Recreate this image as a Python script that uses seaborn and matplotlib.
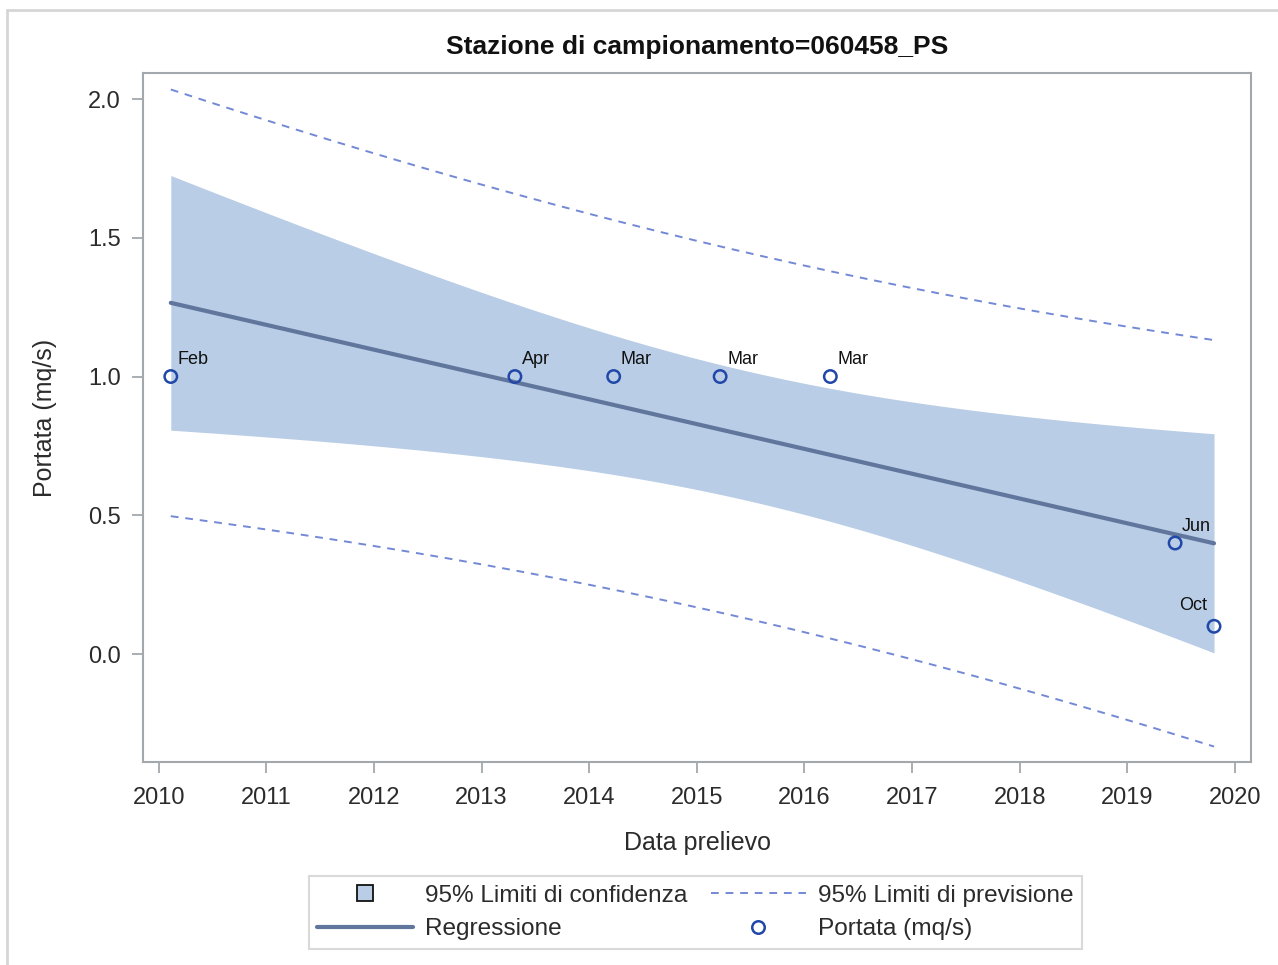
import numpy as np
import pandas as pd
import matplotlib
matplotlib.use("Agg")
import matplotlib.pyplot as plt
from matplotlib.lines import Line2D
import seaborn as sns

# Sampling data for station 060458_PS
sample_dates = ["2010-02-11", "2013-04-24", "2014-03-25", "2015-03-21",
                "2016-03-29", "2019-06-12", "2019-10-22"]
flow_values = [1.0, 1.0, 1.0, 1.0, 1.0, 0.4, 0.1]
month_labels = ["Feb", "Apr", "Mar", "Mar", "Mar", "Jun", "Oct"]
year_ticks = list(range(2010, 2021))
flow_ticks = [0.0, 0.5, 1.0, 1.5, 2.0]

T_975_DF5 = 2.5706  # Student t quantile, 95% two-sided, n-2 = 5 dof

dates = pd.to_datetime(sample_dates)
days_in_year = np.where(dates.is_leap_year, 366.0, 365.0)
x = dates.year.to_numpy() + (dates.dayofyear.to_numpy() - 1) / days_in_year
y = np.asarray(flow_values, dtype=float)
df = pd.DataFrame({"anno": x, "portata": y, "mese": month_labels})

# Ordinary least squares fit with confidence and prediction limits
n = len(x)
slope, intercept = np.polyfit(x, y, 1)
resid = y - (intercept + slope * x)
s = np.sqrt(np.sum(resid ** 2) / (n - 2))
sxx = np.sum((x - x.mean()) ** 2)
xg = np.linspace(x.min(), x.max(), 300)
yg = intercept + slope * xg
se_mean = s * np.sqrt(1.0 / n + (xg - x.mean()) ** 2 / sxx)
se_pred = s * np.sqrt(1.0 + 1.0 / n + (xg - x.mean()) ** 2 / sxx)
fit = pd.DataFrame({"anno": xg, "fit": yg,
                    "cl_lo": yg - T_975_DF5 * se_mean, "cl_hi": yg + T_975_DF5 * se_mean,
                    "pl_lo": yg - T_975_DF5 * se_pred, "pl_hi": yg + T_975_DF5 * se_pred})

sns.set_theme(style="white")
plt.rcParams["font.family"] = ["Liberation Sans", "DejaVu Sans"]

BAND = "#B9CDE6"
FIT = "#61769C"
PRED = "#7389D6"
MARK = "#2148A8"
FRAME = "#A3A8AD"
TXT = "#2B2B2B"
DASH = [4.0, 3.5]

fig = plt.figure(figsize=(12.78, 9.65), dpi=100)
ax = fig.add_axes([143 / 1278, 1 - 762 / 965, (1251 - 143) / 1278, (762 - 73) / 965])

ax.fill_between(fit["anno"], fit["cl_lo"], fit["cl_hi"], color=BAND, lw=0, zorder=1)
sns.lineplot(data=fit, x="anno", y="fit", ax=ax, color=FIT, lw=3, zorder=3)
sns.lineplot(data=fit, x="anno", y="pl_hi", ax=ax, color=PRED, lw=1.4,
             zorder=2).lines[-1].set_dashes(DASH)
sns.lineplot(data=fit, x="anno", y="pl_lo", ax=ax, color=PRED, lw=1.4,
             zorder=2).lines[-1].set_dashes(DASH)
sns.scatterplot(data=df, x="anno", y="portata", ax=ax, marker="o", s=80,
                facecolor="none", edgecolor=MARK, linewidth=1.8, zorder=4)

for xi, yi, lab in zip(x, y, month_labels):
    if xi > 2019.7:
        ax.annotate(lab, (xi, yi), xytext=(-5, 9), textcoords="offset points",
                    ha="right", va="bottom", fontsize=13, color="#111111")
    else:
        ax.annotate(lab, (xi, yi), xytext=(5, 6), textcoords="offset points",
                    ha="left", va="bottom", fontsize=13, color="#111111")

ax.set_xlim(2009.854, 2020.149)
ax.set_ylim(-0.389, 2.0937)
ax.set_xticks(year_ticks)
ax.set_xticklabels([str(v) for v in year_ticks])
ax.set_yticks(flow_ticks)
ax.set_yticklabels([f"{v:.1f}" for v in flow_ticks])
ax.tick_params(axis="both", direction="out", length=8, width=1.3, color=FRAME,
               labelsize=17, labelcolor=TXT, bottom=True, left=True)
ax.tick_params(axis="x", pad=10)
ax.tick_params(axis="y", pad=8)
for sp in ax.spines.values():
    sp.set_color(FRAME)
    sp.set_linewidth(1.5)

ax.set_xlabel("Data prelievo", fontsize=18, color=TXT, labelpad=16)
ax.set_ylabel("Portata (mq/s)", fontsize=18, color=TXT, labelpad=22)
ax.set_title("Stazione di campionamento=060458_PS", fontsize=19, fontweight="bold",
             color="#111111", pad=14)

handles = [
    Line2D([], [], ls="none", marker="s", markersize=12, markerfacecolor=BAND,
           markeredgecolor="#111111", markeredgewidth=1.3),
    Line2D([], [], color=FIT, lw=3),
    Line2D([], [], color=PRED, lw=1.4, dashes=DASH),
    Line2D([], [], ls="none", marker="o", markersize=9, markerfacecolor="none",
           markeredgecolor=MARK, markeredgewidth=1.8),
]
labels = ["95% Limiti di confidenza", "Regressione",
          "95% Limiti di previsione", "Portata (mq/s)"]
leg = fig.legend(handles, labels, ncol=2, loc="center",
                 bbox_to_anchor=(695.5 / 1278, 1 - 912.5 / 965), fontsize=17.6,
                 frameon=True, fancybox=False, handlelength=3.9, handletextpad=0.5,
                 columnspacing=0.95, labelspacing=0.45, borderpad=0.35,
                 borderaxespad=0)
leg.get_frame().set_edgecolor("#D0D0D0")
leg.get_frame().set_linewidth(1.5)
for t in leg.get_texts():
    t.set_color(TXT)

# outer frame lines of the graph area
fig.add_artist(Line2D([7 / 1278, 7 / 1278], [0, 1 - 10 / 965], transform=fig.transFigure,
                      color="#D6D6D6", lw=2))
fig.add_artist(Line2D([7 / 1278, 1], [1 - 10 / 965, 1 - 10 / 965], transform=fig.transFigure,
                      color="#D6D6D6", lw=2))

fig.savefig("out.png", dpi=100)
